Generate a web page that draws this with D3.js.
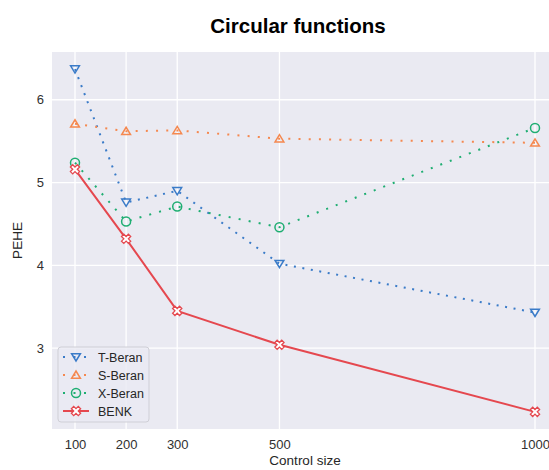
<!DOCTYPE html>
<html>
<head>
<meta charset="utf-8">
<script src="https://cdn.jsdelivr.net/npm/d3@7"></script>
<style>
  body { margin: 0; background: #fff; }
  text { font-family: "Liberation Sans", Arial, sans-serif; }
</style>
</head>
<body>
<svg id="viz" width="549" height="470"></svg>
<script>
// data
const controlSizes = [100, 200, 300, 500, 1000];
const tBeran = [6.37, 4.76, 4.90, 4.02, 3.43];
const sBeran = [5.71, 5.62, 5.63, 5.53, 5.48];
const xBeran = [5.24, 4.53, 4.71, 4.46, 5.66];
const benk = [5.16, 4.32, 3.45, 3.04, 2.23];
const yTicks = [3, 4, 5, 6];

const seriesNames = ["T-Beran", "S-Beran", "X-Beran", "BENK"];
const seriesValues = [tBeran, sBeran, xBeran, benk];
const colors = ["#3a7bc8", "#f5884f", "#1fae72", "#e5484f"];
const dashes = ["2 6.6", "2 8.2", "2 8.2", null];
const markers = ["tri", "triUp", "circle", "x"];

const svg = d3.select("#viz");
const margin = { top: 52, left: 52, right: 558, bottom: 429 };

const x = d3.scaleLinear().domain([55, 1045]).range([margin.left, margin.right]);
const y = d3.scaleLinear().domain([2.023, 6.577]).range([margin.bottom, margin.top]);

// plot background, clipped by the window on the right
svg.append("rect")
  .attr("x", margin.left).attr("y", margin.top)
  .attr("width", margin.right - margin.left)
  .attr("height", margin.bottom - margin.top)
  .attr("fill", "#eaeaf2");

// grid
svg.append("g").selectAll("line").data(controlSizes).enter().append("line")
  .attr("x1", (d) => x(d)).attr("x2", (d) => x(d))
  .attr("y1", margin.top).attr("y2", margin.bottom)
  .attr("stroke", "#fff").attr("stroke-width", 1.3);
svg.append("g").selectAll("line").data(yTicks).enter().append("line")
  .attr("y1", (d) => y(d)).attr("y2", (d) => y(d))
  .attr("x1", margin.left).attr("x2", margin.right)
  .attr("stroke", "#fff").attr("stroke-width", 1.3);

// axes (labels only, seaborn style)
const xAxis = svg.append("g")
  .attr("transform", `translate(0,${margin.bottom})`)
  .call(d3.axisBottom(x).tickValues(controlSizes).tickFormat(d3.format("d")).tickSize(0).tickPadding(11));
const yAxis = svg.append("g")
  .attr("transform", `translate(${margin.left},0)`)
  .call(d3.axisLeft(y).tickValues(yTicks).tickFormat(d3.format("d")).tickSize(0).tickPadding(8));
[xAxis, yAxis].forEach((g) => {
  g.select(".domain").remove();
  g.selectAll("text")
    .style("font-size", "13px")
    .style("fill", "#303030")
    .style("font-family", '"Liberation Sans", Arial, sans-serif');
});

function markerPath(type, r) {
  if (type === "tri") {
    return `M${-r},${-r * 0.75}L${r},${-r * 0.75}L0,${r * 0.9}Z`;
  }
  if (type === "triUp") {
    return `M${-r},${r * 0.75}L${r},${r * 0.75}L0,${-r * 0.9}Z`;
  }
  if (type === "x") {
    const a = r * 0.5, b = r;
    return `M${-b},${-b + a}L${-b + a},${-b}L0,${-a}L${b - a},${-b}L${b},${-b + a}L${a},0L${b},${b - a}L${b - a},${b}L0,${a}L${-b + a},${b}L${-b},${b - a}L${-a},0Z`;
  }
  return null;
}

function drawMarker(g, type, cx, cy, color) {
  if (type === "circle") {
    g.append("circle").attr("cx", cx).attr("cy", cy).attr("r", 4.5)
      .attr("fill", "none").attr("stroke", color).attr("stroke-width", 1.5);
  } else {
    g.append("path").attr("d", markerPath(type, type === "x" ? 4.6 : 4.4))
      .attr("transform", `translate(${cx},${cy})`)
      .attr("fill", type === "x" ? "#fff" : "none")
      .attr("stroke", color).attr("stroke-width", type === "x" ? 1.3 : 1.5)
      .attr("stroke-linejoin", "miter");
  }
}

const line = d3.line().x((d, i) => x(controlSizes[i])).y((d) => y(d));

seriesValues.forEach((vals, k) => {
  const g = svg.append("g");
  g.append("path")
    .attr("d", line(vals))
    .attr("fill", "none")
    .attr("stroke", colors[k])
    .attr("stroke-width", 2)
    .attr("stroke-dasharray", dashes[k]);
  vals.forEach((v, i) => drawMarker(g, markers[k], x(controlSizes[i]), y(v), colors[k]));
});

// legend
const lg = svg.append("g");
lg.append("rect")
  .attr("x", 58).attr("y", 347).attr("width", 91).attr("height", 75)
  .attr("rx", 3)
  .attr("fill", "#eaeaf2").attr("fill-opacity", 0.8)
  .attr("stroke", "#cfcfd6").attr("stroke-width", 1);
seriesNames.forEach((name, k) => {
  const cy = 357 + k * 18;
  lg.append("line")
    .attr("x1", 63).attr("x2", 89).attr("y1", cy).attr("y2", cy)
    .attr("stroke", colors[k]).attr("stroke-width", 2)
    .attr("stroke-dasharray", k === 3 ? null : "2 8.5");
  drawMarker(lg, markers[k], 76, cy, colors[k]);
  lg.append("text")
    .attr("x", 98).attr("y", cy + 4.5)
    .style("font-size", "12.5px").style("fill", "#262626")
    .text(name);
});

// titles
svg.append("text")
  .attr("x", 298).attr("y", 33)
  .attr("text-anchor", "middle")
  .style("font-size", "20.5px").style("font-weight", "bold").style("fill", "#000")
  .text("Circular functions");
svg.append("text")
  .attr("x", 305).attr("y", 465)
  .attr("text-anchor", "middle")
  .style("font-size", "13.5px").style("fill", "#262626")
  .text("Control size");
svg.append("text")
  .attr("transform", `translate(22,${(margin.top + margin.bottom) / 2}) rotate(-90)`)
  .attr("text-anchor", "middle")
  .style("font-size", "13.5px").style("fill", "#262626")
  .text("PEHE");
</script>
</body>
</html>
